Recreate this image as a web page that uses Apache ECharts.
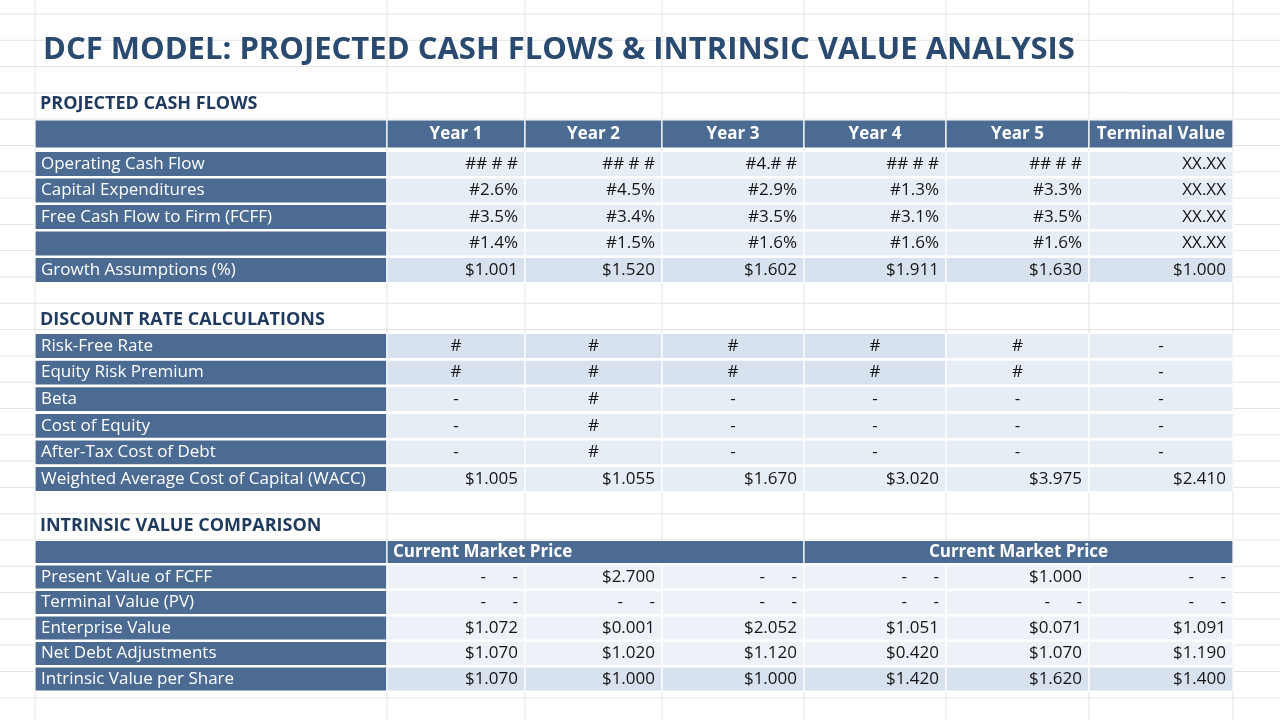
<!DOCTYPE html>
<html><head><meta charset="utf-8">
<script src="https://cdn.jsdelivr.net/npm/echarts@6/dist/echarts.min.js"></script>
<style>html,body{margin:0;background:#fff}#c{width:1280px;height:720px}</style>
</head><body><div id="c"></div>
<script>
const titleText = 'DCF MODEL: PROJECTED CASH FLOWS & INTRINSIC VALUE ANALYSIS';
const section1Title = 'PROJECTED CASH FLOWS';
const section2Title = 'DISCOUNT RATE CALCULATIONS';
const section3Title = 'INTRINSIC VALUE COMPARISON';
const columnHeaders = ['Year 1','Year 2','Year 3','Year 4','Year 5','Terminal Value'];
const cfLabels = ['Operating Cash Flow','Capital Expenditures','Free Cash Flow to Firm (FCFF)','','Growth Assumptions (%)'];
const cfValues = [
  ['## # #','## # #','#4.# #','## # #','## # #','XX.XX'],
  ['#2.6%','#4.5%','#2.9%','#1.3%','#3.3%','XX.XX'],
  ['#3.5%','#3.4%','#3.5%','#3.1%','#3.5%','XX.XX'],
  ['#1.4%','#1.5%','#1.6%','#1.6%','#1.6%','XX.XX'],
  ['$1.001','$1.520','$1.602','$1.911','$1.630','$1.000']
];
const drLabels = ['Risk-Free Rate','Equity Risk Premium','Beta','Cost of Equity','After-Tax Cost of Debt','Weighted Average Cost of Capital (WACC)'];
const drValues = [
  ['#','#','#','#','#','-'],
  ['#','#','#','#','#','-'],
  ['-','#','-','-','-','-'],
  ['-','#','-','-','-','-'],
  ['-','#','-','-','-','-'],
  ['$1.005','$1.055','$1.670','$3.020','$3.975','$2.410']
];
const ivHeaders = ['Current Market Price','Current Market Price'];
const ivLabels = ['Present Value of FCFF','Terminal Value (PV)','Enterprise Value','Net Debt Adjustments','Intrinsic Value per Share'];
const ivValues = [
  ['-      -','$2.700','-      -','-      -','$1.000','-      -'],
  ['-      -','-      -','-      -','-      -','-      -','-      -'],
  ['$1.072','$0.001','$2.052','$1.051','$0.071','$1.091'],
  ['$1.070','$1.020','$1.120','$0.420','$1.070','$1.190'],
  ['$1.070','$1.000','$1.000','$1.420','$1.620','$1.400']
];

// layout
const colEdges = [35,387,525,662,804,946,1089,1233];
const DARK = '#4b6b93', LIGHT = '#e6edf5', LIGHT2 = '#d7e2ee', NAVY = '#1f3a5c', TXT = '#151515';
const F = 'Open Sans, Noto Sans, sans-serif';
const cells = [];
function cell(c0,c1,yc,h,text,fill,color,align,bold,size){cells.push({c0,c1,yc,h,text,fill,color,align,bold,size});}
function sectionTitle(y,t){cells.push({c0:0,c1:0,yc:y,h:0,text:t,fill:null,color:NAVY,align:'title',bold:true,size:18});}

sectionTitle(104, section1Title);
cell(0,1,134,28,'',DARK,'#fff','left',true,17);
columnHeaders.forEach((t,i)=>cell(i+1,i+2,134,28,t,DARK,'#fff','center',true,17));
cfLabels.forEach((l,r)=>{
  const y = 164 + r*26.5;
  cell(0,1,y,25,l,DARK,'#fff','left',false,17);
  cfValues[r].forEach((v,i)=>cell(i+1,i+2,y,25,v,r===4?LIGHT2:LIGHT,TXT,'right',false,17));
});
sectionTitle(320, section2Title);
drLabels.forEach((l,r)=>{
  const y = 346 + r*26.6;
  cell(0,1,y,25,l,DARK,'#fff','left',false,17);
  drValues[r].forEach((v,i)=>cell(i+1,i+2,y,25,v,(r<2&&i<4)?LIGHT2:LIGHT,TXT,r===5?'right':'center',false,17));
});
sectionTitle(526, section3Title);
cell(0,1,552,23,'',DARK,'#fff','left',true,17);
cell(1,4,552,23,ivHeaders[0],DARK,'#fff','left',true,17);
cell(4,7,552,23,ivHeaders[1],DARK,'#fff','center',true,17);
ivLabels.forEach((l,r)=>{
  const y = 577 + r*25.5;
  cell(0,1,y,24,l,DARK,'#fff','left',false,17);
  ivValues[r].forEach((v,i)=>cell(i+1,i+2,y,24,v,r===4?LIGHT2:'#edf2f8',TXT,'right',false,17));
});

const gridLinesY = [];
for (let y = 14; y < 720; y += 26.3) gridLinesY.push(y);
const gridLinesX = [35,387,525,662,804,946,1089,1233];

const chart = echarts.init(document.getElementById('c'));
chart.setOption({
  animation:false,
  title:{text:titleText,left:38,top:30,textStyle:{fontFamily:F,fontSize:31,fontWeight:'bold',color:'#2a4a70'}},
  grid:{left:0,right:0,top:0,bottom:0},
  xAxis:{type:'value',min:0,max:1280,show:false},
  yAxis:{type:'value',min:0,max:720,inverse:true,show:false},
  series:[
    {type:'custom',silent:true,z:1,data:[0],renderItem:(p,api)=>{
      const ch=[];
      gridLinesY.forEach(y=>{const a=api.coord([0,y]),b=api.coord([1280,y]);ch.push({type:'line',shape:{x1:a[0],y1:a[1],x2:b[0],y2:b[1]},style:{stroke:'#e3e3e3',lineWidth:1}});});
      gridLinesX.forEach(x=>{const a=api.coord([x,0]),b=api.coord([x,720]);ch.push({type:'line',shape:{x1:a[0],y1:a[1],x2:b[0],y2:b[1]},style:{stroke:'#e3e3e3',lineWidth:1}});});
      return {type:'group',children:ch};
    }},
    {type:'custom',silent:true,z:2,data:cells.map((c,i)=>i),renderItem:(p,api)=>{
      const c = cells[p.dataIndex];
      if (c.align==='title'){
        const pt = api.coord([40,c.yc]);
        return {type:'text',x:pt[0],y:pt[1],style:{text:c.text,fill:c.color,font:`bold ${c.size}px ${F}`,verticalAlign:'middle'}};
      }
      const a = api.coord([colEdges[c.c0], c.yc - c.h/2]);
      const b = api.coord([colEdges[c.c1], c.yc + c.h/2]);
      const x = c.align==='left'? a[0]+6 : c.align==='right'? b[0]-7 : (a[0]+b[0])/2;
      return {type:'group',children:[
        {type:'rect',shape:{x:a[0],y:a[1],width:b[0]-a[0],height:b[1]-a[1]},style:{fill:c.fill,stroke:'#ffffff',lineWidth:1.2}},
        {type:'text',x:x,y:(a[1]+b[1])/2,style:{text:c.text,fill:c.color,font:`${c.bold?'bold ':''}${c.size}px ${F}`,align:c.align,verticalAlign:'middle'}}
      ]};
    }}
  ]
});
</script></body></html>
